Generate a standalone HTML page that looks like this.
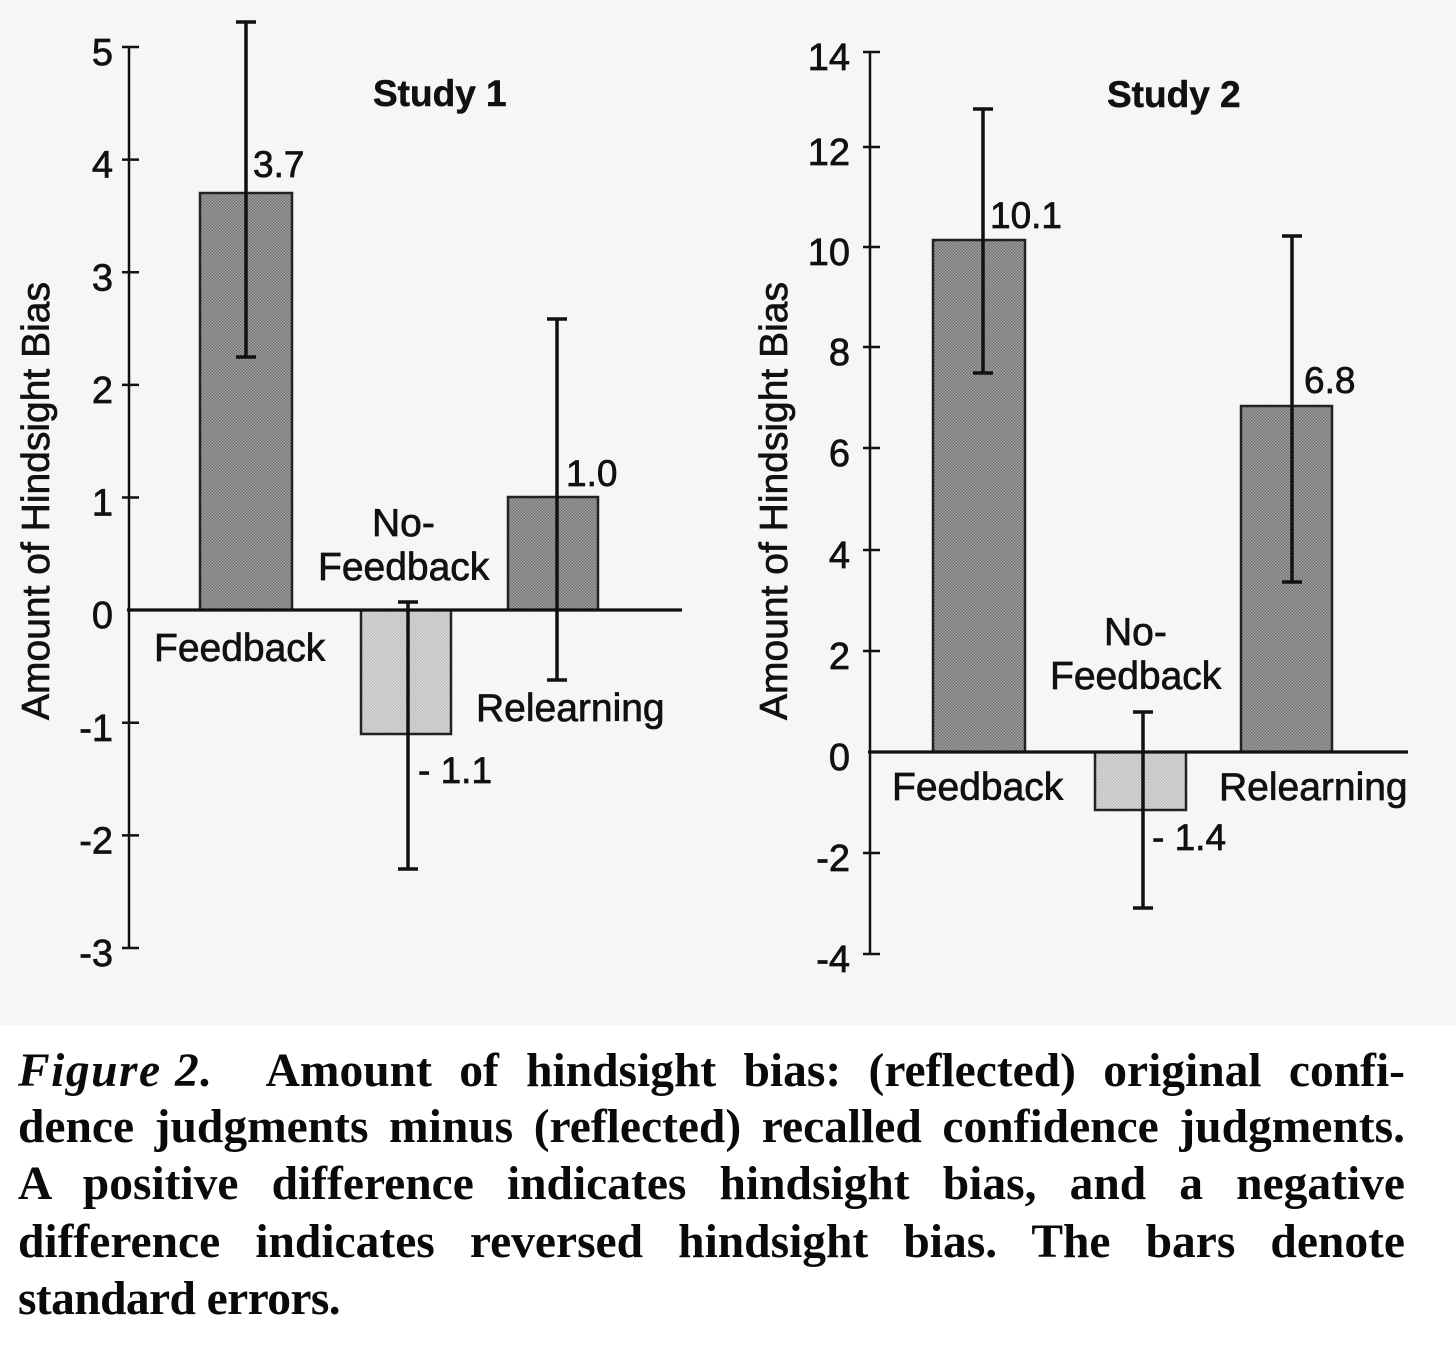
<!DOCTYPE html>
<html><head><meta charset="utf-8"><style>
html,body{margin:0;padding:0;background:#fff;}
body{width:1456px;height:1351px;position:relative;overflow:hidden;}
svg{position:absolute;left:0;top:0;}
.cap{position:absolute;left:18px;width:1387px;font-family:"Liberation Serif",serif;font-weight:bold;font-size:47.5px;line-height:57.5px;height:57.5px;color:#0a0a0a;text-align:justify;text-align-last:justify;white-space:nowrap;}
.cap i{display:inline-block;margin-right:52px;letter-spacing:1.5px;}
</style></head><body>
<svg width="1456" height="1351" viewBox="0 0 1456 1351" font-family="Liberation Sans, Arial, sans-serif" fill="#111">
<defs>
<pattern id="dk" width="3" height="3" patternUnits="userSpaceOnUse"><rect width="3" height="3" fill="#a2a2a2"/><rect width="1.5" height="1.5" fill="#737373"/><rect x="1.5" y="1.5" width="1.5" height="1.5" fill="#737373"/></pattern>
<pattern id="lt" width="3" height="3" patternUnits="userSpaceOnUse"><rect width="3" height="3" fill="#dcdcdc"/><rect width="1.5" height="1.5" fill="#bababa"/><rect x="1.5" y="1.5" width="1.5" height="1.5" fill="#bababa"/></pattern>
</defs>
<rect x="0" y="0" width="1456" height="1025" fill="#f6f6f6"/>
<rect x="0" y="1025" width="1456" height="326" fill="#ffffff"/>

<!-- Study 1 -->
<g stroke="#111" stroke-width="2.5">
<line x1="129" y1="46" x2="129" y2="949"/>
<line x1="122" y1="47" x2="139" y2="47"/>
<line x1="122" y1="159.6" x2="139" y2="159.6"/>
<line x1="122" y1="272.3" x2="139" y2="272.3"/>
<line x1="122" y1="384.9" x2="139" y2="384.9"/>
<line x1="122" y1="497.5" x2="139" y2="497.5"/>
<line x1="122" y1="722.8" x2="139" y2="722.8"/>
<line x1="122" y1="835.4" x2="139" y2="835.4"/>
<line x1="122" y1="948" x2="139" y2="948"/>
</g>
<g font-size="38" text-anchor="end" stroke="#111" stroke-width="0.7">
<text x="113" y="65">5</text>
<text x="113" y="177.6">4</text>
<text x="113" y="290.3">3</text>
<text x="113" y="402.9">2</text>
<text x="113" y="515.5">1</text>
<text x="113" y="628">0</text>
<text x="113" y="740.8">-1</text>
<text x="113" y="853.4">-2</text>
<text x="113" y="966">-3</text>
</g>
<text transform="translate(49,501) rotate(-90)" text-anchor="middle" font-size="39" stroke="#111" stroke-width="0.7">Amount of Hindsight Bias</text>
<text x="373" y="106" font-size="37" font-weight="bold" stroke="#111" stroke-width="0.5">Study 1</text>

<g stroke="#222" stroke-width="2.5">
<rect x="200" y="193" width="92" height="417" fill="url(#dk)"/>
<rect x="361" y="610" width="90" height="124" fill="url(#lt)"/>
<rect x="508" y="497" width="90" height="113" fill="url(#dk)"/>
</g>
<line x1="127" y1="610" x2="682" y2="610" stroke="#111" stroke-width="3.2"/>
<g stroke="#111" stroke-width="3.5">
<line x1="246" y1="22" x2="246" y2="357"/><line x1="236" y1="22" x2="256" y2="22"/><line x1="236" y1="357" x2="256" y2="357"/>
<line x1="408" y1="602" x2="408" y2="869"/><line x1="398" y1="602" x2="418" y2="602"/><line x1="398" y1="869" x2="418" y2="869"/>
<line x1="557" y1="319" x2="557" y2="680"/><line x1="547" y1="319" x2="567" y2="319"/><line x1="547" y1="680" x2="567" y2="680"/>
</g>
<g font-size="37" stroke="#111" stroke-width="0.7">
<text x="253" y="177">3.7</text>
<text x="566" y="486">1.0</text>
<text x="418" y="783">- 1.1</text>
</g>
<g font-size="39" stroke="#111" stroke-width="0.7">
<text x="154" y="661">Feedback</text>
<text x="372" y="536">No-</text>
<text x="318" y="580">Feedback</text>
<text x="476" y="721">Relearning</text>
</g>

<!-- Study 2 -->
<g stroke="#111" stroke-width="2.5">
<line x1="870" y1="51" x2="870" y2="955"/>
<line x1="863" y1="52" x2="880" y2="52"/>
<line x1="863" y1="147" x2="880" y2="147"/>
<line x1="863" y1="247" x2="880" y2="247"/>
<line x1="863" y1="347" x2="880" y2="347"/>
<line x1="863" y1="448" x2="880" y2="448"/>
<line x1="863" y1="550" x2="880" y2="550"/>
<line x1="863" y1="651" x2="880" y2="651"/>
<line x1="863" y1="853" x2="880" y2="853"/>
<line x1="863" y1="954" x2="880" y2="954"/>
</g>
<g font-size="38" text-anchor="end" stroke="#111" stroke-width="0.7">
<text x="850" y="70">14</text>
<text x="850" y="165">12</text>
<text x="850" y="265">10</text>
<text x="850" y="365">8</text>
<text x="850" y="466">6</text>
<text x="850" y="568">4</text>
<text x="850" y="669">2</text>
<text x="850" y="770">0</text>
<text x="850" y="871">-2</text>
<text x="850" y="972">-4</text>
</g>
<text transform="translate(787,501) rotate(-90)" text-anchor="middle" font-size="39" stroke="#111" stroke-width="0.7">Amount of Hindsight Bias</text>
<text x="1107" y="107" font-size="37" font-weight="bold" stroke="#111" stroke-width="0.5">Study 2</text>

<g stroke="#222" stroke-width="2.5">
<rect x="933" y="240" width="92" height="512" fill="url(#dk)"/>
<rect x="1095" y="752" width="91" height="58" fill="url(#lt)"/>
<rect x="1241" y="406" width="91" height="346" fill="url(#dk)"/>
</g>
<line x1="868" y1="752" x2="1408" y2="752" stroke="#111" stroke-width="3.2"/>
<g stroke="#111" stroke-width="3.5">
<line x1="983" y1="109" x2="983" y2="373"/><line x1="973" y1="109" x2="993" y2="109"/><line x1="973" y1="373" x2="993" y2="373"/>
<line x1="1143" y1="712" x2="1143" y2="908"/><line x1="1133" y1="712" x2="1153" y2="712"/><line x1="1133" y1="908" x2="1153" y2="908"/>
<line x1="1292" y1="236" x2="1292" y2="582"/><line x1="1282" y1="236" x2="1302" y2="236"/><line x1="1282" y1="582" x2="1302" y2="582"/>
</g>
<g font-size="37" stroke="#111" stroke-width="0.7">
<text x="990" y="228">10.1</text>
<text x="1304" y="393">6.8</text>
<text x="1152" y="850">- 1.4</text>
</g>
<g font-size="39" stroke="#111" stroke-width="0.7">
<text x="892" y="800">Feedback</text>
<text x="1104" y="645">No-</text>
<text x="1050" y="689">Feedback</text>
<text x="1219" y="800">Relearning</text>
</g>
</svg>

<div class="cap" style="top:1043px;"><i>Figure 2.</i>Amount of hindsight bias: (reflected) original confi-</div>
<div class="cap" style="top:1099px;">dence judgments minus (reflected) recalled confidence judgments.</div>
<div class="cap" style="top:1156px;">A positive difference indicates hindsight bias, and a negative</div>
<div class="cap" style="top:1214px;">difference indicates reversed hindsight bias. The bars denote</div>
<div class="cap" style="top:1271px;text-align:left;text-align-last:left;letter-spacing:-0.6px;">standard errors.</div>
</body></html>
